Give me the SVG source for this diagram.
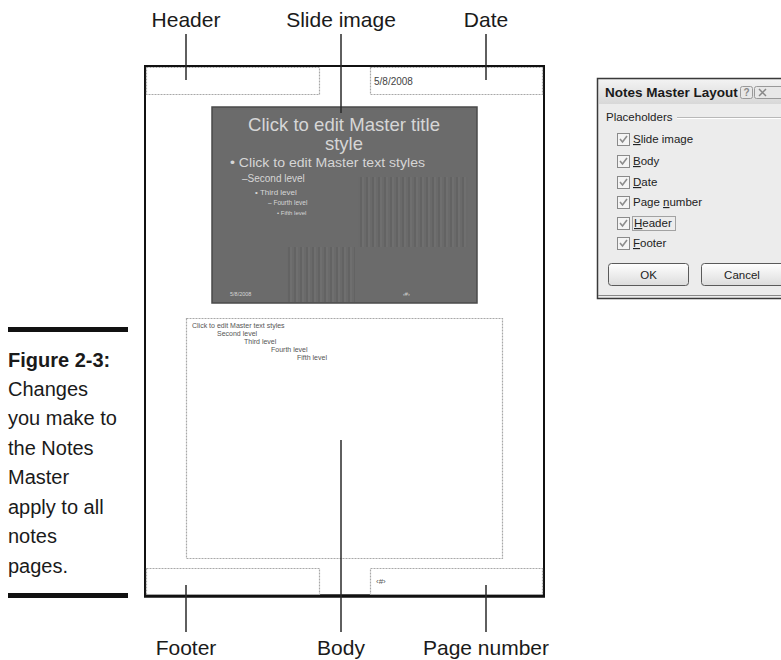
<svg xmlns="http://www.w3.org/2000/svg" width="781" height="660" viewBox="0 0 781 660">
<defs>
<style>
.lbl{font-family:"Liberation Sans",Arial,sans-serif;font-size:21px;fill:#1a1a1a;text-anchor:middle}
.cap{font-family:"Liberation Sans",Arial,sans-serif;font-size:20px;fill:#1a1a1a}
.ph{fill:#fff;stroke:#a8a8a8;stroke-width:1.2;stroke-dasharray:2 1}
.lead{stroke:#2a2a2a;stroke-width:1.5;fill:none}
.st{font-family:"Liberation Sans",Arial,sans-serif;fill:#d6d6d6}
.bt{font-family:"Liberation Sans",Arial,sans-serif;font-size:7px;fill:#555}
.dl{font-family:"Liberation Sans",Tahoma,sans-serif;font-size:11.5px;fill:#222}
.cb{fill:#f4f4f4;stroke:#8a8a8a;stroke-width:1}
.ck{fill:none;stroke:#8c8c8c;stroke-width:1.6}
.btn{fill:url(#bg);stroke:#5a5a5a;stroke-width:1}
</style>
<pattern id="stripe" width="6" height="10" patternUnits="userSpaceOnUse">
<rect width="6" height="10" fill="#6a6a6a"/>
<line x1="1" y1="0" x2="1" y2="10" stroke="#5c5c5c" stroke-width="1"/>
<line x1="3" y1="0" x2="3" y2="10" stroke="#747474" stroke-width="1"/>
</pattern>
<linearGradient id="bg" x1="0" y1="0" x2="0" y2="1">
<stop offset="0" stop-color="#ffffff"/>
<stop offset="1" stop-color="#dcdcdc"/>
</linearGradient>
<linearGradient id="tb" x1="0" y1="0" x2="0" y2="1">
<stop offset="0" stop-color="#f2f2f2"/>
<stop offset="1" stop-color="#d8d8d8"/>
</linearGradient>
</defs>

<rect width="781" height="660" fill="#fff"/>

<g id="caption">
<rect x="8" y="327" width="120" height="5" fill="#111"/>
<text class="cap" x="8" y="367" font-weight="bold">Figure 2-3:</text>
<text class="cap" x="8" y="396">Changes</text>
<text class="cap" x="8" y="425">you make to</text>
<text class="cap" x="8" y="455">the Notes</text>
<text class="cap" x="8" y="484">Master</text>
<text class="cap" x="8" y="514">apply to all</text>
<text class="cap" x="8" y="543">notes</text>
<text class="cap" x="8" y="573">pages.</text>
<rect x="8" y="593" width="120" height="5" fill="#111"/>
</g>

<g id="page">
<rect x="145" y="66" width="399" height="530" fill="#fff" stroke="#111" stroke-width="2"/>
<line x1="144" y1="596" x2="545" y2="596" stroke="#111" stroke-width="3.5"/>
</g>

<g id="header-box">
<rect class="ph" x="146.5" y="67.5" width="173" height="27"/>
</g>
<g id="date-box">
<rect class="ph" x="370.5" y="67.5" width="172" height="27"/>
<text x="374" y="85" font-family="'Liberation Sans',Arial,sans-serif" font-size="10" fill="#444">5/8/2008</text>
</g>

<g id="slide-image">
<rect x="212" y="107" width="265" height="196" fill="#6b6b6b" stroke="#4a4a4a" stroke-width="1.5"/>
<rect x="358" y="177" width="110" height="70" fill="url(#stripe)"/>
<rect x="287" y="247" width="68" height="55" fill="url(#stripe)"/>
<text class="st" x="344" y="131" font-size="18.5" text-anchor="middle" textLength="192" lengthAdjust="spacingAndGlyphs">Click to edit Master title</text>
<text class="st" x="344" y="150" font-size="18.5" text-anchor="middle">style</text>
<text class="st" x="230" y="167" font-size="12" textLength="195" lengthAdjust="spacingAndGlyphs">• Click to edit Master text styles</text>
<text class="st" x="242" y="182" font-size="10">–Second level</text>
<text class="st" x="255" y="195" font-size="8">• Third level</text>
<text class="st" x="268" y="205" font-size="6.5">– Fourth level</text>
<text class="st" x="277" y="215" font-size="6">• Fifth level</text>
<text class="st" x="230" y="296" font-size="5.5">5/8/2008</text>
<text class="st" x="403" y="296" font-size="5.5">‹#›</text>
</g>

<g id="body-box">
<rect class="ph" x="186.5" y="318.5" width="316" height="240"/>
<text class="bt" x="192" y="328">Click to edit Master text styles</text>
<text class="bt" x="217" y="336">Second level</text>
<text class="bt" x="244" y="344">Third level</text>
<text class="bt" x="271" y="352">Fourth level</text>
<text class="bt" x="297" y="360">Fifth level</text>
</g>

<g id="footer-box">
<rect class="ph" x="146.5" y="568.5" width="173" height="26"/>
</g>
<g id="page-number-box">
<rect class="ph" x="370.5" y="568.5" width="172" height="26"/>
<text x="376" y="584" font-family="'Liberation Sans',Arial,sans-serif" font-size="8" fill="#555">‹#›</text>
</g>

<g id="connectors">
<line class="lead" x1="186" y1="34" x2="186" y2="80"/>
<line class="lead" x1="341" y1="34" x2="341" y2="113"/>
<line class="lead" x1="486" y1="34" x2="486" y2="80"/>
<line class="lead" x1="186" y1="585" x2="186" y2="632"/>
<line class="lead" x1="341" y1="440" x2="341" y2="632"/>
<line class="lead" x1="486" y1="585" x2="486" y2="632"/>
</g>

<g id="label-header"><text class="lbl" x="186" y="27">Header</text></g>
<g id="label-slide"><text class="lbl" x="341" y="27">Slide image</text></g>
<g id="label-date"><text class="lbl" x="486" y="27">Date</text></g>
<g id="label-footer"><text class="lbl" x="186" y="655">Footer</text></g>
<g id="label-body"><text class="lbl" x="341" y="655">Body</text></g>
<g id="label-pagenum"><text class="lbl" x="486" y="655">Page number</text></g>

<g id="dialog">
<rect x="597.5" y="78.5" width="200" height="220" fill="#ececec" stroke="#3a3a3a" stroke-width="1.5"/>
<rect x="599" y="80" width="190" height="24" fill="url(#tb)"/>
<text x="605" y="97" font-family="'Liberation Sans',Tahoma,sans-serif" font-size="13.5" font-weight="bold" fill="#1a1a1a">Notes Master Layout</text>
<rect x="740.5" y="86.5" width="12" height="12" rx="2" fill="#e8e8e8" stroke="#999"/>
<text x="746.5" y="96" font-family="'Liberation Sans',sans-serif" font-size="10" font-weight="bold" fill="#888" text-anchor="middle">?</text>
<rect x="754.5" y="86.5" width="30" height="12" rx="2" fill="#e8e8e8" stroke="#999"/>
<path d="M759 89 L766 96 M766 89 L759 96" stroke="#888" stroke-width="1.5"/>
<text class="dl" x="606" y="121">Placeholders</text>
<line x1="677" y1="117.5" x2="781" y2="117.5" stroke="#b8b8b8" stroke-width="1"/>
<line x1="677" y1="118.5" x2="781" y2="118.5" stroke="#fff" stroke-width="1"/>

<rect class="cb" x="617.5" y="133.5" width="12" height="12"/>
<path class="ck" d="M620 139 L622.5 142 L627 136"/>
<text class="dl" x="633" y="143"><tspan text-decoration="underline">S</tspan>lide image</text>

<rect class="cb" x="617.5" y="155.5" width="12" height="12"/>
<path class="ck" d="M620 161 L622.5 164 L627 158"/>
<text class="dl" x="633" y="165"><tspan text-decoration="underline">B</tspan>ody</text>

<rect class="cb" x="617.5" y="176.5" width="12" height="12"/>
<path class="ck" d="M620 182 L622.5 185 L627 179"/>
<text class="dl" x="633" y="186"><tspan text-decoration="underline">D</tspan>ate</text>

<rect class="cb" x="617.5" y="196.5" width="12" height="12"/>
<path class="ck" d="M620 202 L622.5 205 L627 199"/>
<text class="dl" x="633" y="206">Page <tspan text-decoration="underline">n</tspan>umber</text>

<rect class="cb" x="617.5" y="217.5" width="12" height="12"/>
<path class="ck" d="M620 223 L622.5 226 L627 220"/>
<rect x="632.5" y="216.5" width="43" height="14" fill="none" stroke="#333" stroke-width="0.8" stroke-dasharray="1 1"/>
<text class="dl" x="634" y="227"><tspan text-decoration="underline">H</tspan>eader</text>

<rect class="cb" x="617.5" y="237.5" width="12" height="12"/>
<path class="ck" d="M620 243 L622.5 246 L627 240"/>
<text class="dl" x="633" y="247"><tspan text-decoration="underline">F</tspan>ooter</text>

<rect class="btn" x="608.5" y="263.5" width="80" height="22" rx="3"/>
<text class="dl" x="648.5" y="279" text-anchor="middle">OK</text>
<rect class="btn" x="701.5" y="263.5" width="90" height="22" rx="3"/>
<text class="dl" x="742" y="279" text-anchor="middle">Cancel</text>
<line x1="598" y1="295.5" x2="781" y2="295.5" stroke="#888" stroke-width="1"/>
</g>
</svg>
